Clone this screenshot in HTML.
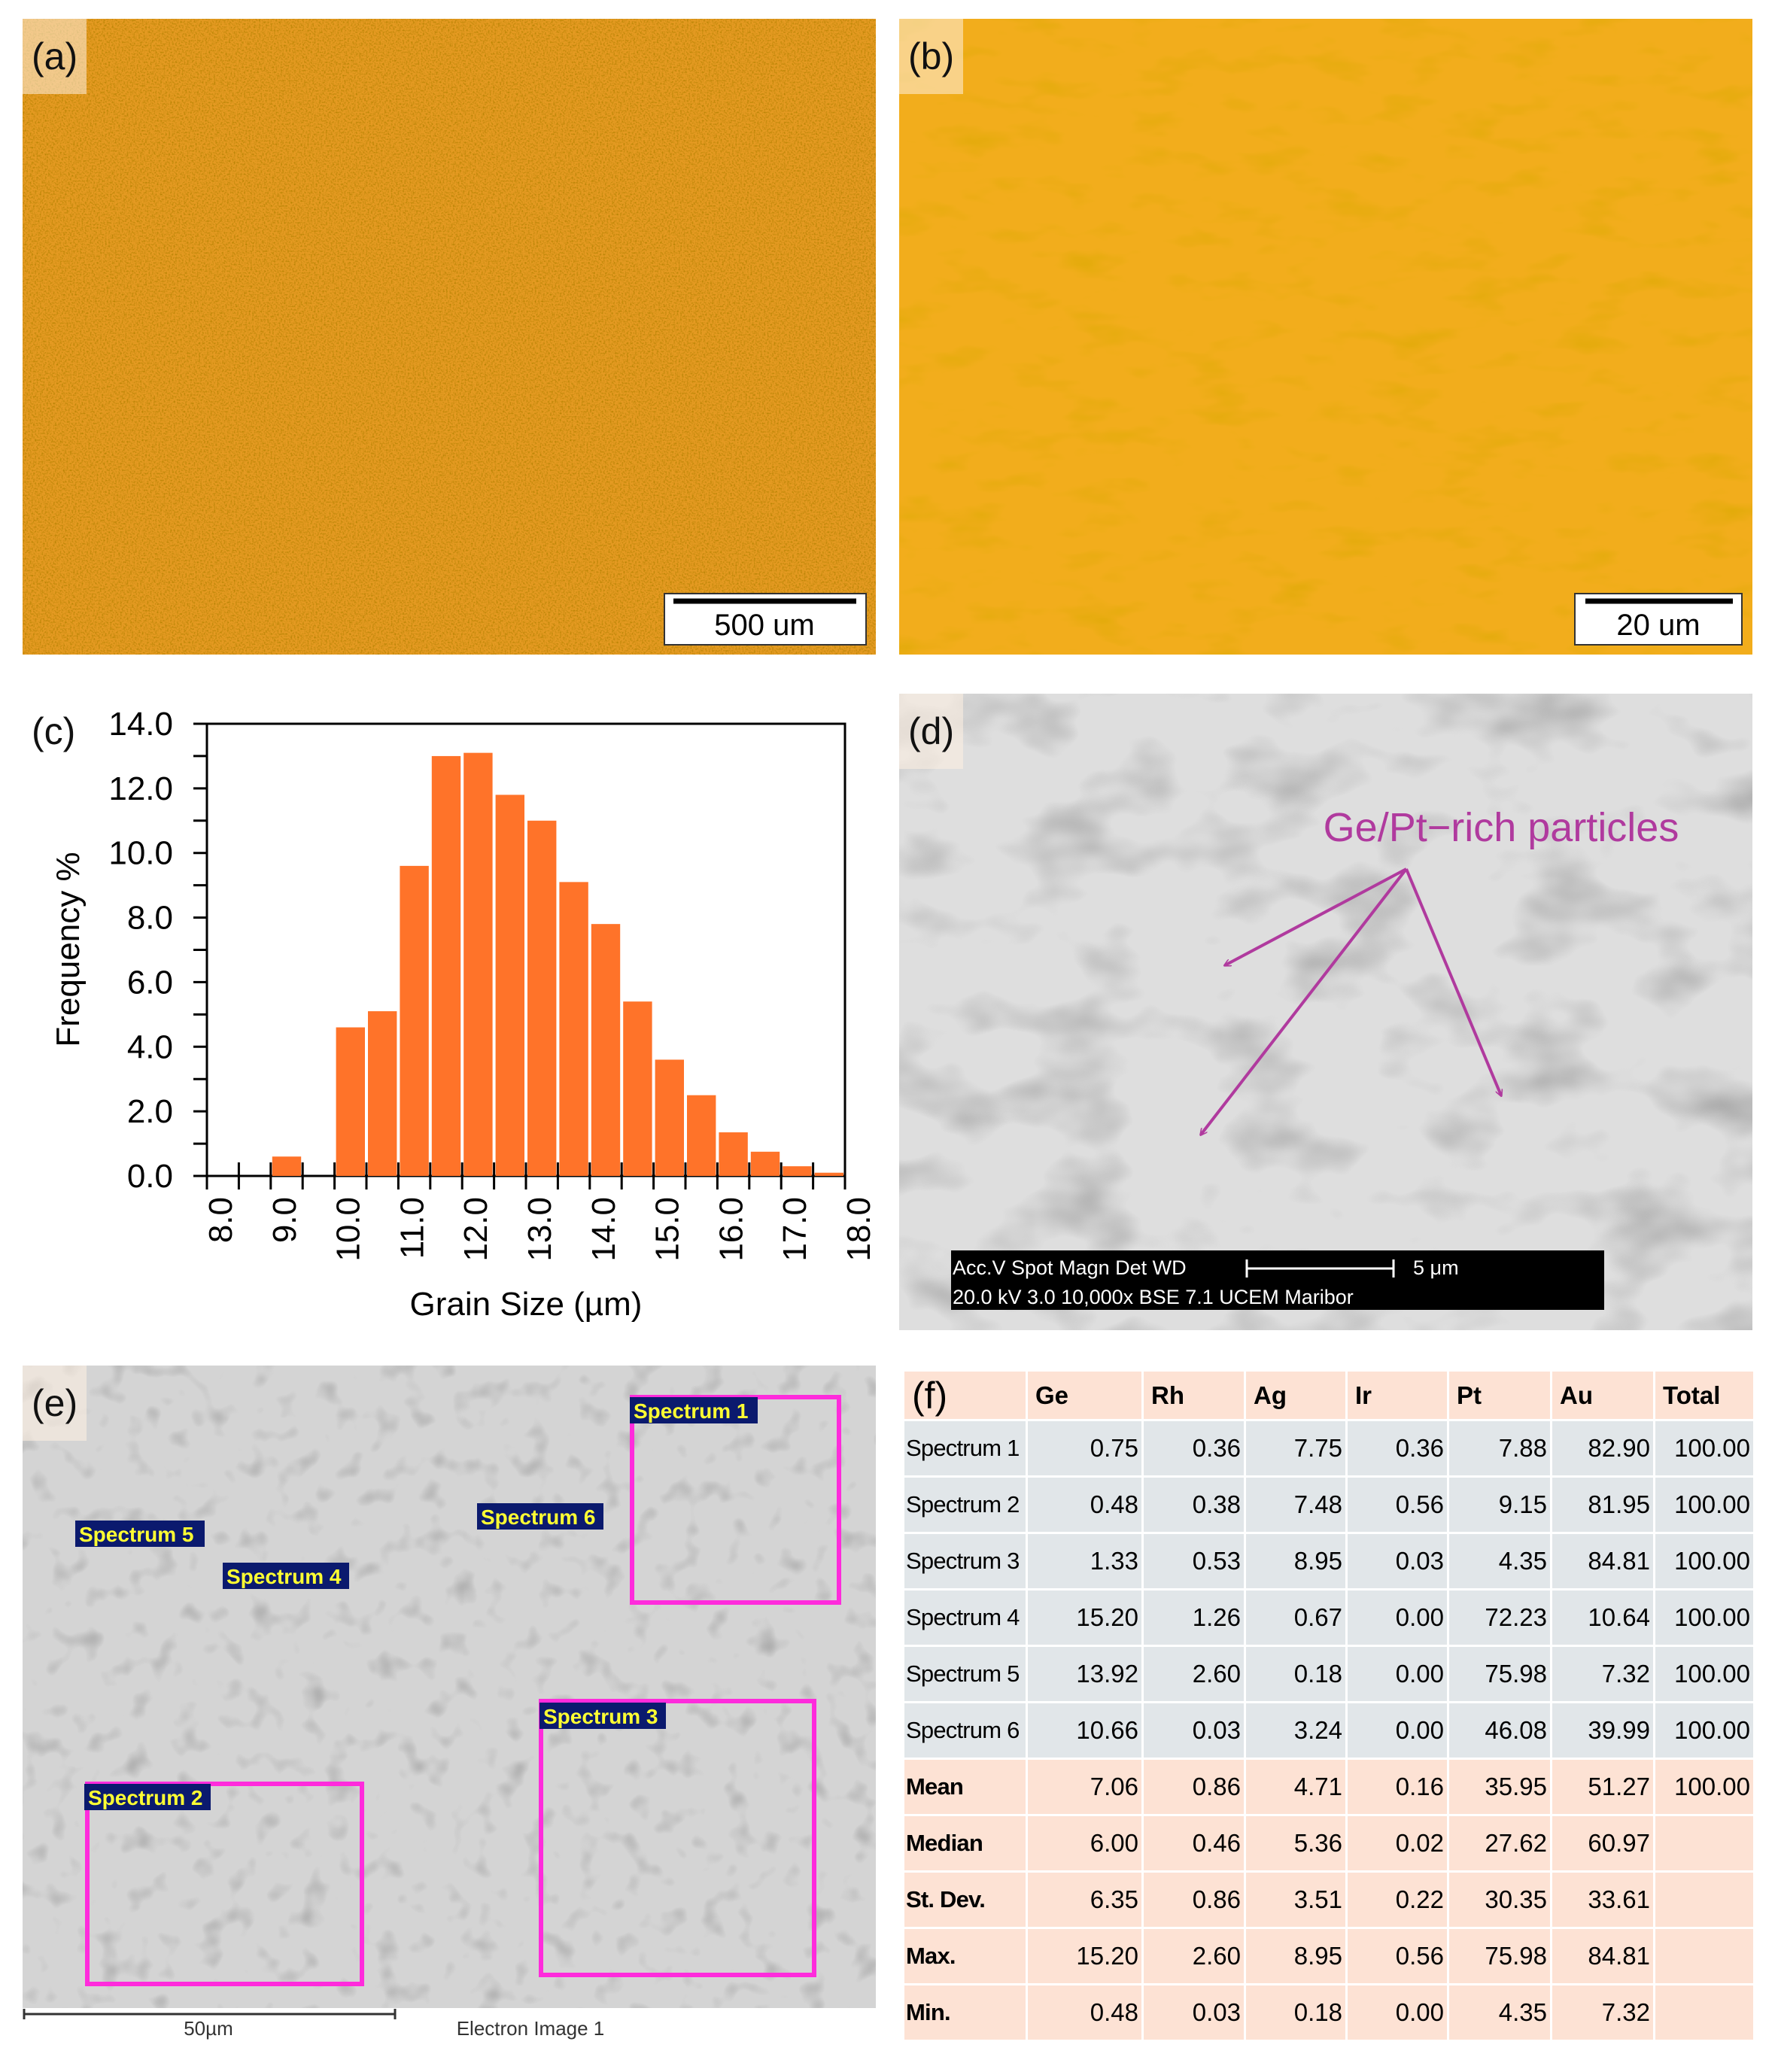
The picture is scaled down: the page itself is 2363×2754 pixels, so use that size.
<!DOCTYPE html>
<html><head><meta charset="utf-8">
<style>
html,body{margin:0;padding:0;background:#fff;}
body{width:2363px;height:2754px;position:relative;overflow:hidden;font-family:"Liberation Sans",sans-serif;}
.abs{position:absolute;}
.lbl{position:absolute;background:rgba(255,240,225,0.55);font-size:50px;color:#111;padding:0 12px;line-height:100px;height:100px;}
table{border-collapse:collapse;table-layout:fixed;width:1131px;}
</style></head>
<body>
<svg width="2363" height="2754" style="position:absolute;left:0;top:0">
<defs>
<filter id="noiseA" x="0" y="0" width="100%" height="100%">
<feTurbulence type="fractalNoise" baseFrequency="0.45" numOctaves="2" seed="3"/>
<feColorMatrix type="matrix" values="0 0 0 0 0.45  0 0 0 0 0.22  0 0 0 0 0  2.2 0 0 0 -0.95"/>
</filter>
<filter id="noiseB" x="0" y="0" width="100%" height="100%">
<feTurbulence type="fractalNoise" baseFrequency="0.012 0.03" numOctaves="3" seed="7"/>
<feColorMatrix type="matrix" values="0 0 0 0 0.7  0 0 0 0 0.4  0 0 0 0 0  1.6 0 0 0 -0.85"/>
</filter>
<filter id="noiseG" x="0" y="0" width="100%" height="100%">
<feTurbulence type="fractalNoise" baseFrequency="0.008 0.012" numOctaves="3" seed="11"/>
<feColorMatrix type="matrix" values="0 0 0 0 0.35  0 0 0 0 0.35  0 0 0 0 0.35  1.8 0 0 0 -0.9"/>
</filter>
<filter id="noiseE" x="0" y="0" width="100%" height="100%">
<feTurbulence type="fractalNoise" baseFrequency="0.03" numOctaves="2" seed="5"/>
<feColorMatrix type="matrix" values="0 0 0 0 0.3  0 0 0 0 0.3  0 0 0 0 0.3  1.6 0 0 0 -0.9"/>
</filter>
<marker id="ah" markerWidth="10" markerHeight="10" refX="8" refY="5" orient="auto" markerUnits="userSpaceOnUse" viewBox="0 0 10 10">
<path d="M0,0 L10,5 L0,10" fill="none" stroke="#b03a9e" stroke-width="1.6"/>
</marker>
</defs>
<g>
<rect x="30" y="25" width="1134" height="845" fill="#e59a22"/>
<rect x="30" y="25" width="1134" height="845" filter="url(#noiseA)"/>
<rect x="883" y="789" width="268" height="68" fill="#fff" stroke="#333" stroke-width="2"/>
<line x1="895" y1="799" x2="1138" y2="799" stroke="#000" stroke-width="7"/>
<text x="1016" y="844" font-size="40" text-anchor="middle" font-family="Liberation Sans">500 um</text>
</g>
<g>
<rect x="1195" y="25" width="1134" height="845" fill="#f2ad1c"/>
<rect x="1195" y="25" width="1134" height="845" filter="url(#noiseB)"/>
<rect x="2093" y="789" width="222" height="68" fill="#fff" stroke="#333" stroke-width="2"/>
<line x1="2107" y1="799" x2="2303" y2="799" stroke="#000" stroke-width="7"/>
<text x="2204" y="844" font-size="40" text-anchor="middle" font-family="Liberation Sans">20 um</text>
</g>
<g>
<rect x="1195" y="922" width="1134" height="846" fill="#dedede"/>
<rect x="1195" y="922" width="1134" height="846" filter="url(#noiseG)"/>
<rect x="1264" y="1662" width="868" height="79" fill="#000"/>
<g fill="#fff" font-size="27" font-family="Liberation Sans">
<text x="1266" y="1694">Acc.V   Spot Magn    Det  WD</text>
<text x="1266" y="1733">20.0 kV 3.0   10,000x  BSE 7.1    UCEM Maribor</text>
<text x="1878" y="1694">5 μm</text>
</g>
<line x1="1657" y1="1686" x2="1852" y2="1686" stroke="#fff" stroke-width="3"/>
<line x1="1657" y1="1674" x2="1657" y2="1698" stroke="#fff" stroke-width="3"/>
<line x1="1852" y1="1674" x2="1852" y2="1698" stroke="#fff" stroke-width="3"/>
<text x="1995" y="1118" font-size="54" fill="#b03a9e" text-anchor="middle" font-family="Liberation Sans">Ge/Pt−rich particles</text>
<g stroke="#b03a9e" stroke-width="4" fill="none">
<line x1="1869" y1="1155" x2="1628" y2="1283" marker-end="url(#ah)"/>
<line x1="1869" y1="1155" x2="1596" y2="1508" marker-end="url(#ah)"/>
<line x1="1869" y1="1155" x2="1995" y2="1456" marker-end="url(#ah)"/>
</g>
</g>
<g>
<rect x="30" y="1815" width="1134" height="854" fill="#d4d4d4"/>
<rect x="30" y="1815" width="1134" height="854" filter="url(#noiseE)"/>
<g fill="none" stroke="#ff2bdc" stroke-width="6">
<rect x="840" y="1857" width="275" height="273"/>
<rect x="719" y="2261" width="363" height="364"/>
<rect x="116" y="2371" width="365" height="266"/>
</g>
<g font-size="28" font-weight="bold" fill="#ffff33" font-family="Liberation Sans">
<rect x="837" y="1857" width="170" height="35" fill="#0b1a6e"/><text x="842" y="1885">Spectrum 1</text>
<rect x="100" y="2021" width="172" height="35" fill="#0b1a6e"/><text x="105" y="2049">Spectrum 5</text>
<rect x="296" y="2077" width="168" height="35" fill="#0b1a6e"/><text x="301" y="2105">Spectrum 4</text>
<rect x="634" y="1998" width="168" height="35" fill="#0b1a6e"/><text x="639" y="2026">Spectrum 6</text>
<rect x="717" y="2263" width="168" height="35" fill="#0b1a6e"/><text x="722" y="2291">Spectrum 3</text>
<rect x="112" y="2371" width="168" height="35" fill="#0b1a6e"/><text x="117" y="2399">Spectrum 2</text>
</g>
<line x1="32" y1="2677" x2="525" y2="2677" stroke="#333" stroke-width="3"/>
<line x1="32" y1="2670" x2="32" y2="2684" stroke="#333" stroke-width="3"/>
<line x1="525" y1="2670" x2="525" y2="2684" stroke="#333" stroke-width="3"/>
<text x="277" y="2705" font-size="26" text-anchor="middle" fill="#333">50µm</text>
<text x="705" y="2705" font-size="26" text-anchor="middle" fill="#333">Electron Image 1</text>
</g>
<g id="chart"></g>
</svg>

<div class="lbl" style="left:30px;top:25px;">(a)</div>
<div class="lbl" style="left:1195px;top:25px;">(b)</div>
<div class="lbl" style="left:30px;top:922px;background:none">(c)</div>
<div class="lbl" style="left:1195px;top:922px;">(d)</div>
<div class="lbl" style="left:30px;top:1815px;">(e)</div>

<table class="abs" style="left:1199px;top:1820px;font-size:33px;">
<colgroup><col style="width:164px"><col style="width:154px"><col style="width:136px"><col style="width:135px"><col style="width:135px"><col style="width:137px"><col style="width:137px"><col style="width:133px"></colgroup>
<tbody id="tb"></tbody>
</table>

<script>
const binStarts = [8.0,8.5,9.0,9.5,10.0,10.5,11.0,11.5,12.0,12.5,13.0,13.5,14.0,14.5,15.0,15.5,16.0,16.5,17.0,17.5];
const frequency = [0,0,0.6,0,4.6,5.1,9.6,13.0,13.1,11.8,11.0,9.1,7.8,5.4,3.6,2.5,1.35,0.75,0.3,0.1];
const yTicks = [0,2,4,6,8,10,12,14];
const yTickLabels = ["0.0","2.0","4.0","6.0","8.0","10.0","12.0","14.0"];
const xTicks = [8,9,10,11,12,13,14,15,16,17,18];
const xTickLabels = ["8.0","9.0","10.0","11.0","12.0","13.0","14.0","15.0","16.0","17.0","18.0"];

const NS="http://www.w3.org/2000/svg";
const g=document.getElementById('chart');
const L=275,R=1123,T=962,B=1563;
const xs=v=>L+(v-8)/10*(R-L);
const ys=v=>B-v/14*(B-T);
function mk(t,a){const e=document.createElementNS(NS,t);for(const k in a)e.setAttribute(k,a[k]);g.appendChild(e);return e;}
mk('rect',{x:L,y:T,width:R-L,height:B-T,fill:'none',stroke:'#000','stroke-width':3});
binStarts.forEach((b,i)=>{
  if(frequency[i]<=0)return;
  const x0=xs(b)+2,x1=xs(b+0.5)-2;
  const r=mk('rect',{x:x0,y:ys(frequency[i]),width:x1-x0,height:B-ys(frequency[i]),fill:'#ff7329'});
  
  
});
for(let v=8;v<=18.001;v+=0.5){mk('line',{x1:xs(v),y1:B-18,x2:xs(v),y2:B+18,stroke:'#000','stroke-width':3});}
for(let v=0;v<=14;v+=1){mk('line',{x1:L-18,y1:ys(v),x2:L,y2:ys(v),stroke:'#000','stroke-width':3});}
yTicks.forEach((v,i)=>{const t=mk('text',{x:L-45,y:ys(v)+15,'font-size':44,'text-anchor':'end','font-family':'Liberation Sans'});t.textContent=yTickLabels[i];
});
xTicks.forEach((v,i)=>{const x=xs(v)+33,y=B+28;const t=mk('text',{x:x,y:y,'font-size':44,'text-anchor':'end','font-family':'Liberation Sans',transform:`rotate(-90 ${x} ${y})`});t.textContent=xTickLabels[i];
});
let t=mk('text',{x:(L+R)/2,y:1748,'font-size':44,'text-anchor':'middle','font-family':'Liberation Sans'});t.textContent='Grain Size (µm)';

t=mk('text',{x:105,y:1262,'font-size':44,'text-anchor':'middle','font-family':'Liberation Sans',transform:'rotate(-90 105 1262)'});t.textContent='Frequency %';


const headers=["","Ge","Rh","Ag","Ir","Pt","Au","Total"];
const rowNames=["Spectrum 1","Spectrum 2","Spectrum 3","Spectrum 4","Spectrum 5","Spectrum 6","Mean","Median","St. Dev.","Max.","Min."];
const rowVals=[
["0.75","0.36","7.75","0.36","7.88","82.90","100.00"],
["0.48","0.38","7.48","0.56","9.15","81.95","100.00"],
["1.33","0.53","8.95","0.03","4.35","84.81","100.00"],
["15.20","1.26","0.67","0.00","72.23","10.64","100.00"],
["13.92","2.60","0.18","0.00","75.98","7.32","100.00"],
["10.66","0.03","3.24","0.00","46.08","39.99","100.00"],
["7.06","0.86","4.71","0.16","35.95","51.27","100.00"],
["6.00","0.46","5.36","0.02","27.62","60.97",""],
["6.35","0.86","3.51","0.22","30.35","33.61",""],
["15.20","2.60","8.95","0.56","75.98","84.81",""],
["0.48","0.03","0.18","0.00","4.35","7.32",""]];
const tb=document.getElementById('tb');
const cell='border:3px solid #fff;padding:0 4px;white-space:nowrap;overflow:hidden;';
let tr=document.createElement('tr');tr.style.height='66px';
headers.forEach((h,i)=>{const td=document.createElement('td');td.style.cssText=cell+'background:#fde2d4;font-weight:bold;text-align:left;padding-left:10px;'+(i==0?'font-weight:normal;font-size:50px;':'');td.textContent=i==0?'(f)':h;tr.appendChild(td);});


tb.appendChild(tr);
rowNames.forEach((n,r)=>{
  const tr=document.createElement('tr');tr.style.height='75px';
  
  
  const bg=r<6?'#e1e6e9':'#fde2d4';
  const td=document.createElement('td');td.style.cssText=cell+'background:'+bg+';padding:0 0 0 2px;font-size:31px;letter-spacing:-0.8px;'+(r>=6?'font-weight:bold;':'');td.textContent=n;tr.appendChild(td);
  rowVals[r].forEach(v=>{const c=document.createElement('td');c.style.cssText=cell+'background:'+bg+';text-align:right;';c.textContent=v;tr.appendChild(c);});
  tb.appendChild(tr);
});
</script>
</body></html>
